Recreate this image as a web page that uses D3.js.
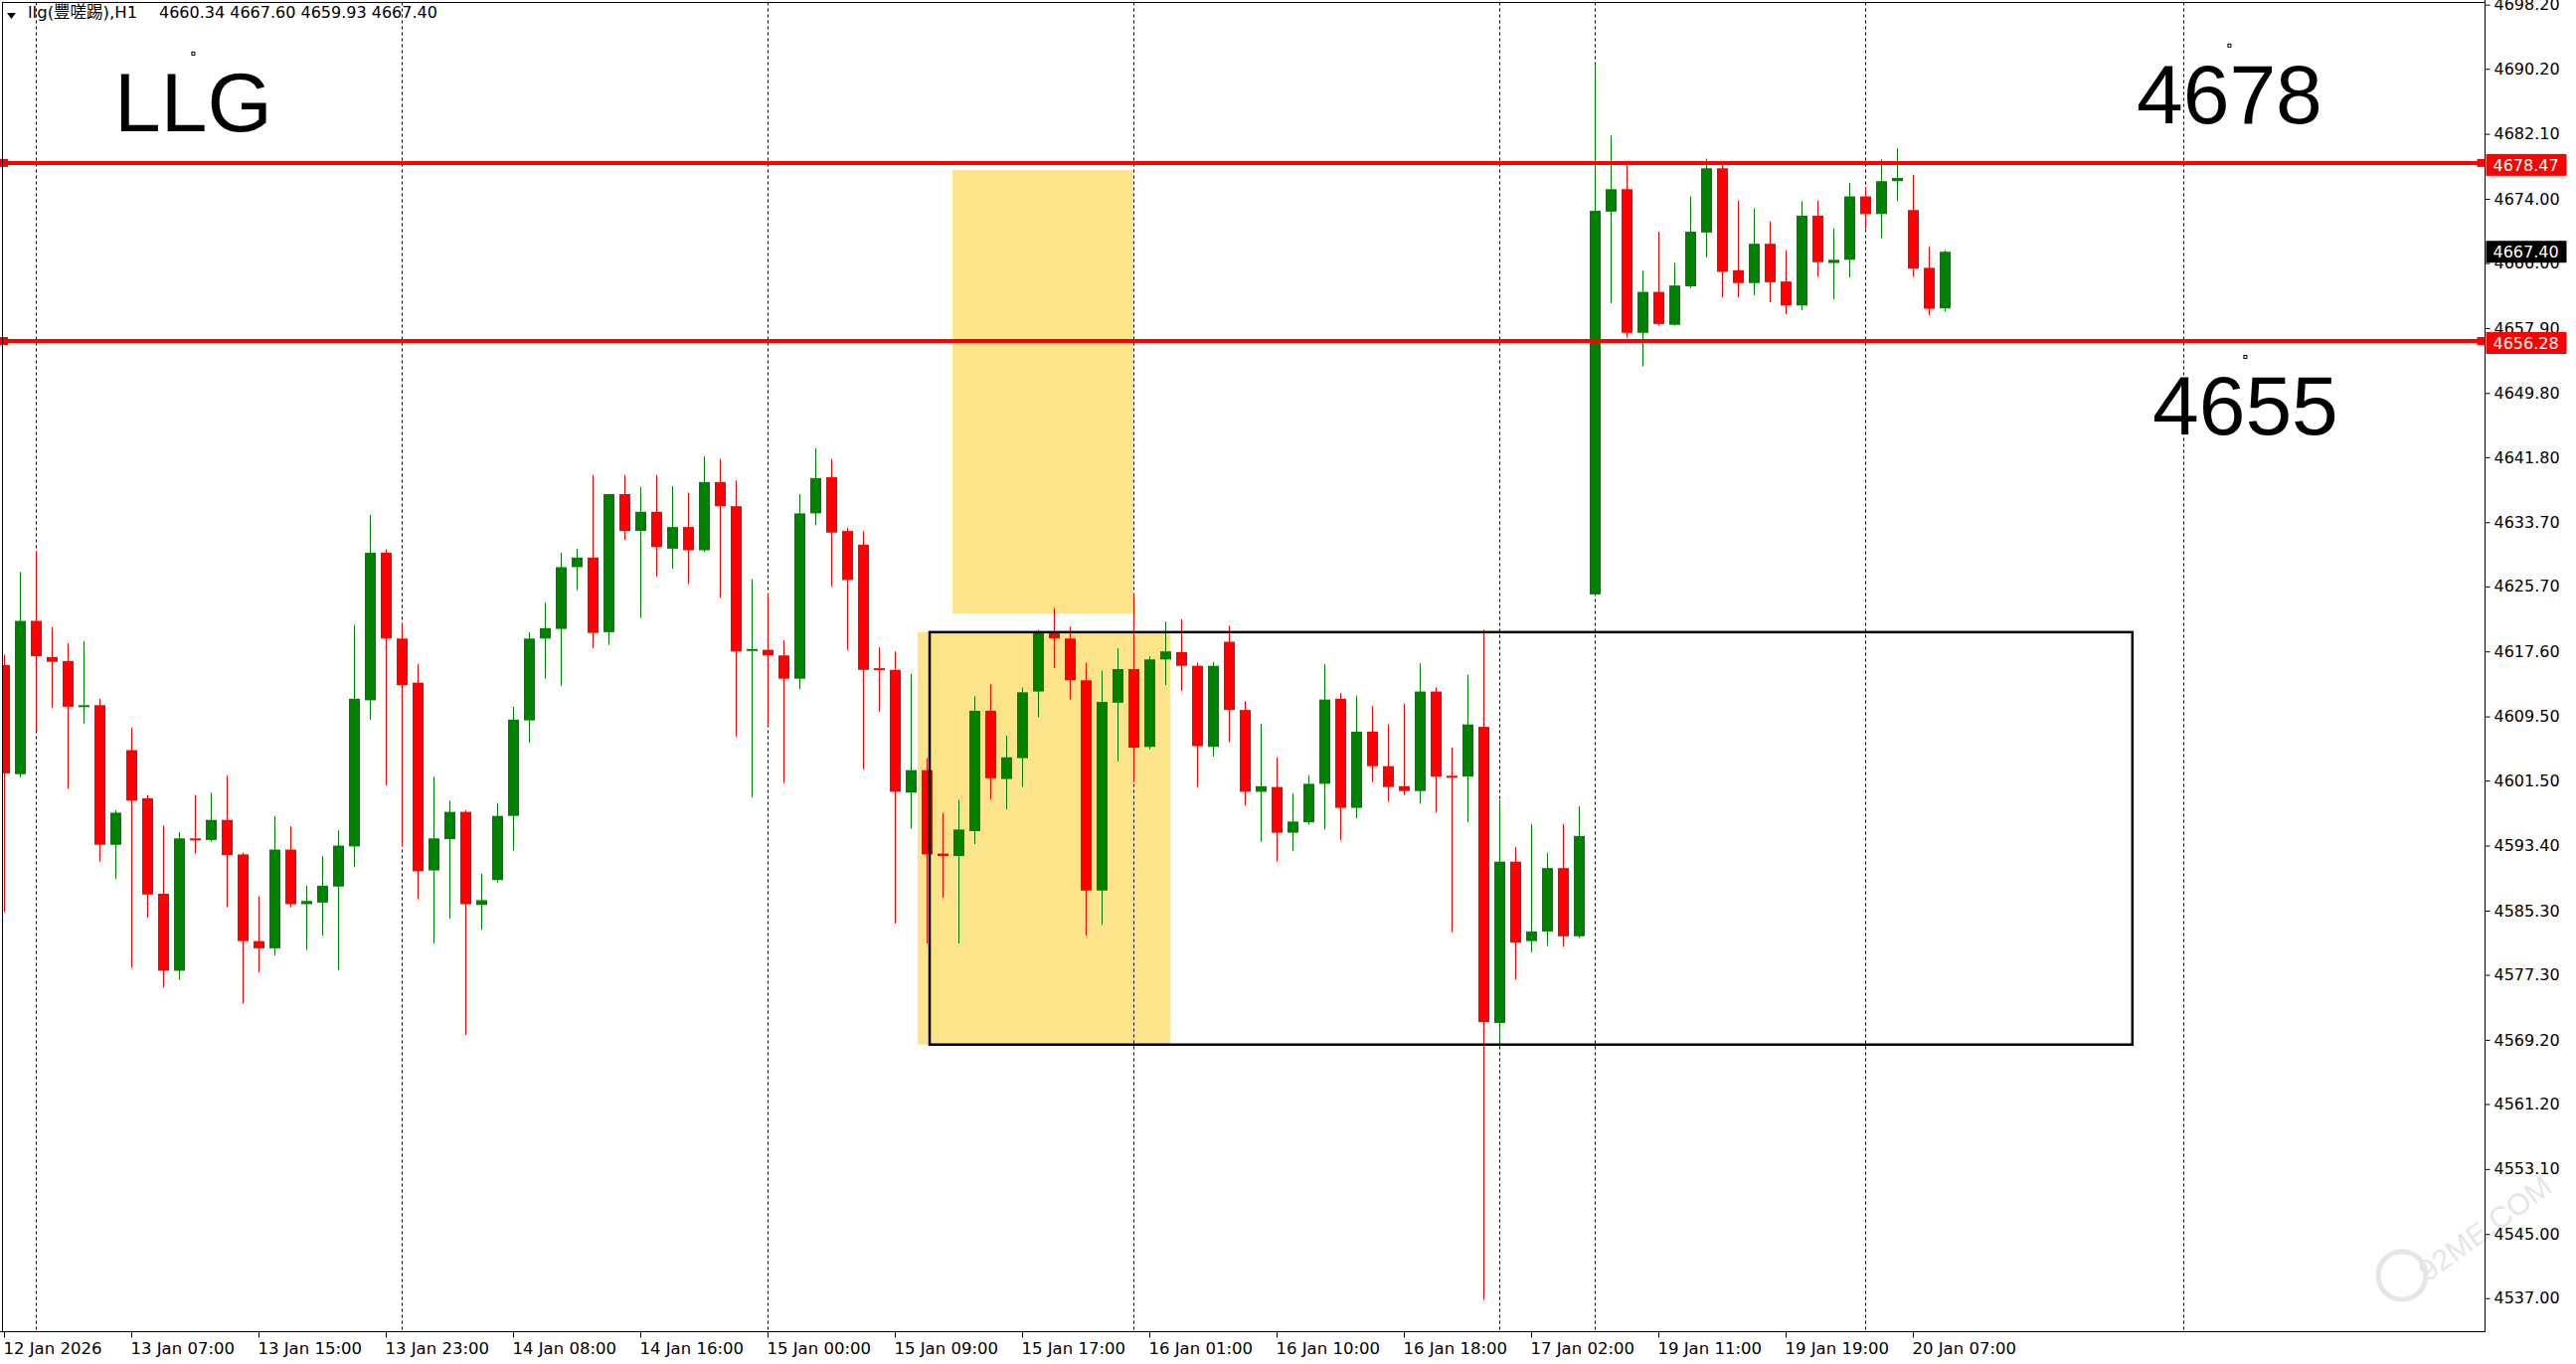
<!DOCTYPE html>
<html>
<head>
<meta charset="utf-8">
<script src="https://cdn.jsdelivr.net/npm/d3@7"></script>
<style>
  html, body { margin: 0; padding: 0; background: #ffffff; }
  svg { display: block; }
  text { white-space: pre; }
</style>
</head>
<body>
<svg id="chart" width="2591" height="1372"></svg>
<script>
// ---------------- DATA ----------------
const opens = [
  4615.9,4602.3,4621.4,4616.9,4616.4,4610.7,4610.9,4593.5,4605.3,4599.3,
  4587.4,4577.8,4594.3,4594.1,4596.6,4592.3,4581.5,4580.6,4592.9,4586.1,
  4586.3,4588.3,4593.3,4611.5,4629.9,4619.2,4613.7,4590.3,4594.2,4597.6,
  4586.0,4589.1,4597.1,4609.0,4619.2,4620.4,4628.1,4629.3,4620.0,4637.2,
  4632.6,4635.0,4630.4,4633.1,4630.2,4638.7,4635.7,4617.7,4617.8,4617.1,
  4614.2,4634.8,4639.3,4632.6,4630.9,4615.5,4615.3,4600.0,4602.8,4592.4,
  4592.1,4595.2,4610.2,4601.7,4604.3,4612.6,4620.0,4619.2,4614.0,4587.8,
  4611.2,4615.4,4605.7,4616.6,4617.5,4615.8,4605.7,4618.8,4610.3,4600.1,
  4600.7,4595.0,4596.3,4601.1,4611.7,4598.1,4607.6,4603.3,4600.8,4600.2,
  4612.6,4602.1,4602.0,4608.2,4571.3,4591.4,4581.5,4582.7,4590.6,4582.1,
  4624.7,4672.4,4675.2,4657.3,4662.4,4658.3,4663.1,4669.8,4677.8,4665.1,
  4663.5,4668.4,4663.7,4660.7,4671.9,4666.0,4666.4,4674.3,4672.1,4676.2,
  4672.6,4665.4,4660.34
];
const highs = [
  4617.2,4627.5,4630.1,4620.6,4618.6,4618.9,4611.7,4597.8,4608.1,4599.7,
  4595.9,4595.1,4599.7,4600.0,4602.1,4592.5,4587.1,4597.1,4595.8,4588.4,
  4592.1,4595.3,4620.9,4634.6,4630.3,4621.1,4616.0,4602.0,4599.0,4597.8,
  4589.9,4598.7,4610.7,4620.0,4623.7,4629.9,4630.4,4639.6,4637.2,4639.6,
  4638.1,4639.6,4638.2,4637.4,4641.9,4641.6,4638.9,4626.6,4624.8,4619.0,
  4637.2,4642.9,4641.6,4633.0,4632.6,4618.1,4617.6,4614.8,4604.3,4597.4,
  4599.1,4612.0,4613.5,4607.1,4613.1,4620.3,4623.0,4620.7,4616.2,4615.2,
  4618.0,4624.8,4617.0,4621.3,4621.6,4616.2,4616.3,4620.8,4611.4,4608.6,
  4604.4,4599.9,4602.2,4616.0,4612.4,4612.1,4610.8,4608.5,4611.1,4616.1,
  4613.1,4605.6,4614.7,4620.3,4599.1,4593.2,4596.1,4592.5,4596.1,4598.3,
  4690.6,4681.9,4678.3,4665.0,4669.9,4666.0,4674.3,4679.0,4678.3,4673.8,
  4672.8,4671.2,4667.6,4673.7,4673.8,4670.3,4676.0,4675.5,4678.9,4680.3,
  4677.0,4668.0,4667.60
];
const lows = [
  4585.1,4601.9,4607.7,4610.6,4600.5,4608.6,4591.4,4589.2,4578.2,4584.4,
  4575.7,4576.7,4592.4,4593.9,4585.7,4573.7,4577.6,4579.7,4585.7,4580.4,
  4582.2,4577.9,4590.7,4609.1,4600.9,4593.3,4586.7,4581.2,4584.3,4569.8,
  4582.9,4588.8,4592.8,4606.2,4614.2,4613.3,4625.2,4618.0,4618.4,4631.5,
  4621.8,4626.9,4627.9,4626.0,4630.0,4624.3,4607.0,4599.4,4608.3,4601.2,
  4612.9,4633.3,4625.7,4617.8,4602.9,4610.1,4583.7,4595.5,4581.2,4586.9,
  4581.2,4593.6,4599.1,4597.9,4600.7,4609.4,4615.5,4611.6,4582.2,4583.5,
  4603.9,4601.3,4605.4,4613.4,4612.7,4600.7,4604.5,4606.3,4598.4,4593.9,
  4591.4,4592.7,4596.0,4595.4,4594.1,4596.8,4601.3,4598.9,4599.7,4598.6,
  4597.5,4582.6,4596.3,4536.8,4568.3,4576.7,4580.1,4580.9,4580.8,4581.9,
  4624.5,4661.0,4656.7,4653.1,4658.2,4658.2,4662.9,4666.7,4661.7,4661.7,
  4662.0,4661.1,4659.6,4660.1,4664.3,4661.5,4664.2,4670.3,4669.1,4673.7,
  4664.3,4659.5,4659.93
];
const closes = [
  4602.4,4621.4,4617.0,4616.3,4610.7,4610.9,4593.5,4597.5,4599.0,4587.3,
  4577.8,4594.3,4594.1,4596.6,4592.2,4581.5,4580.6,4592.9,4586.1,4586.5,
  4588.4,4593.4,4611.7,4629.9,4619.2,4613.4,4590.2,4594.3,4597.6,4586.1,
  4586.6,4597.1,4609.1,4619.2,4620.5,4628.1,4629.3,4619.9,4637.2,4632.6,
  4635.0,4630.6,4633.1,4630.2,4638.7,4635.7,4617.6,4617.9,4617.1,4614.2,
  4634.8,4639.2,4632.4,4626.5,4615.3,4615.3,4600.1,4602.8,4592.3,4592.1,
  4595.4,4610.2,4601.8,4604.4,4612.5,4620.0,4619.2,4614.0,4587.8,4611.3,
  4615.4,4605.6,4616.6,4617.6,4615.8,4605.8,4615.8,4610.3,4600.1,4600.8,
  4595.0,4596.4,4601.1,4611.6,4598.1,4607.6,4603.3,4600.7,4600.2,4612.6,
  4602.0,4601.9,4608.5,4571.4,4591.4,4581.3,4582.7,4590.6,4582.1,4594.6,
  4672.5,4675.2,4657.3,4662.4,4658.4,4663.2,4669.9,4677.8,4664.9,4663.5,
  4668.4,4663.6,4660.7,4671.9,4666.1,4666.4,4674.3,4672.1,4676.2,4676.6,
  4665.3,4660.3,4667.40
];

const timeLabels = ["12 Jan 2026","13 Jan 07:00","13 Jan 15:00","13 Jan 23:00","14 Jan 08:00",
  "14 Jan 16:00","15 Jan 00:00","15 Jan 09:00","15 Jan 17:00","16 Jan 01:00","16 Jan 10:00",
  "16 Jan 18:00","17 Jan 02:00","19 Jan 11:00","19 Jan 19:00","20 Jan 07:00"];
const barsPerLabel = 8;
const daySeparators = [2, 25, 48, 71, 94, 100, 117, 137];
const priceTicks = [4698.20,4690.20,4682.10,4674.00,4666.00,4657.90,4649.80,4641.80,4633.70,
  4625.70,4617.60,4609.50,4601.50,4593.40,4585.30,4577.30,4569.20,4561.20,4553.10,4545.00,4537.00];

const levelLines = [4678.47, 4656.28];
const lastPrice = 4667.40;
const headerSymbol = "llg(豐嗟踢),H1";
const headerOHLC = "4660.34 4667.60 4659.93 4667.40";

// zones: [barStart, barEnd, priceTop, priceBottom]
const yellowZones = [[59.63, 71.0, 4677.6, 4622.3], [57.44, 73.31, 4620.0, 4568.6]];
const boxZone = [58.19, 133.8, 4620.0, 4568.6];
// notes: [label, bar, price]
const notes = [["LLG", 11.9, 4692.1], ["4678", 139.9, 4693.1], ["4655", 140.9, 4654.3]];

// ---------------- DRAW ----------------
const W = 2591, H = 1372;
const plotL = 2.5, plotT = 2.5, plotR = 2499.5, plotB = 1339.5;
const svg = d3.select("#chart");

const x = d3.scaleLinear().domain([0, 155]).range([4, 4 + 155 * 16]);
const y = d3.scaleLinear().domain([4537.0, 4690.2]).range([1305.8, 69.2]);

const GREEN = "#008000", RED = "#ff0000";
const AXFONT = "'DejaVu Sans', Verdana, sans-serif";

svg.append("rect").attr("x", 0).attr("y", 0).attr("width", W).attr("height", H).attr("fill", "#fff");

// faint watermark (drawn first, under everything)
const wm = svg.append("g").attr("opacity", 0.6);
wm.append("circle").attr("cx", 2416).attr("cy", 1283).attr("r", 24)
  .attr("fill", "none").attr("stroke", "#d6d6d6").attr("stroke-width", 5);
wm.append("text").attr("transform", "translate(2442,1290) rotate(-36)")
  .attr("font-family", "'Liberation Sans', Arial, sans-serif").attr("font-size", 30)
  .attr("fill", "#d6d6d6").text("92ME.COM");

// clip
svg.append("clipPath").attr("id", "plotclip").append("rect")
  .attr("x", plotL).attr("y", plotT).attr("width", plotR - plotL).attr("height", plotB - plotT);
const plot = svg.append("g").attr("clip-path", "url(#plotclip)");

// yellow zones
plot.selectAll("rect.zone").data(yellowZones).join("rect").attr("class", "zone")
  .attr("x", d => x(d[0])).attr("width", d => x(d[1]) - x(d[0]))
  .attr("y", d => y(d[2])).attr("height", d => y(d[3]) - y(d[2]))
  .attr("fill", "#fde48a");

// day separators
plot.selectAll("line.sep").data(daySeparators).join("line").attr("class", "sep")
  .attr("x1", d => Math.round(x(d)) + 0.5).attr("x2", d => Math.round(x(d)) + 0.5)
  .attr("y1", plotT).attr("y2", plotB)
  .attr("stroke", "#000").attr("stroke-width", 1).attr("stroke-dasharray", "3,3");

// candles
const idx = d3.range(opens.length);
const cg = plot.append("g");
cg.selectAll("line.wick").data(idx).join("line").attr("class", "wick")
  .attr("x1", i => Math.round(x(i)) + 0.5).attr("x2", i => Math.round(x(i)) + 0.5)
  .attr("y1", i => y(highs[i])).attr("y2", i => y(lows[i]))
  .attr("stroke", i => closes[i] >= opens[i] ? GREEN : RED).attr("stroke-width", 1);
cg.selectAll("rect.body").data(idx).join("rect").attr("class", "body")
  .attr("x", i => Math.round(x(i)) - 5).attr("width", 11)
  .attr("y", i => y(Math.max(opens[i], closes[i])))
  .attr("height", i => Math.max(2, Math.abs(y(opens[i]) - y(closes[i]))))
  .attr("fill", i => closes[i] >= opens[i] ? GREEN : RED);

// black rectangle
plot.append("rect")
  .attr("x", x(boxZone[0])).attr("width", x(boxZone[1]) - x(boxZone[0]))
  .attr("y", y(boxZone[2])).attr("height", y(boxZone[3]) - y(boxZone[2]))
  .attr("fill", "none").attr("stroke", "#000").attr("stroke-width", 2.5);

// level lines
const lv = svg.append("g");
lv.selectAll("line.lvl").data(levelLines).join("line").attr("class", "lvl")
  .attr("x1", 0).attr("x2", plotR).attr("y1", d => y(d)).attr("y2", d => y(d))
  .attr("stroke", RED).attr("stroke-width", 4);
lv.selectAll("rect.lvlL").data(levelLines).join("rect").attr("class", "lvlL")
  .attr("x", 0).attr("width", 8).attr("y", d => y(d) - 4).attr("height", 8).attr("fill", RED);
lv.selectAll("rect.lvlR").data(levelLines).join("rect").attr("class", "lvlR")
  .attr("x", plotR - 8).attr("width", 8).attr("y", d => y(d) - 4).attr("height", 8).attr("fill", RED);

// notes (text objects with anchor squares)
const ng = svg.append("g");
ng.selectAll("rect.anchor").data(notes).join("rect").attr("class", "anchor")
  .attr("x", d => x(d[1]) - 1.5).attr("y", d => y(d[2]) - 1.5).attr("width", 3).attr("height", 3)
  .attr("fill", "#fff").attr("stroke", "#000").attr("stroke-width", 1);
ng.selectAll("text.note").data(notes).join("text").attr("class", "note")
  .attr("x", d => x(d[1])).attr("y", d => y(d[2]) + 78)
  .attr("text-anchor", "middle")
  .attr("font-family", "'Liberation Sans', Arial, sans-serif").attr("font-size", 84)
  .attr("fill", "#000").text(d => d[0]);

// frame
svg.append("rect").attr("x", plotL).attr("y", plotT).attr("width", plotR - plotL).attr("height", plotB - plotT)
  .attr("fill", "none").attr("stroke", "#000").attr("stroke-width", 1);

// right axis
const yAxis = d3.axisRight(y).tickValues(priceTicks).tickFormat(d3.format(".2f")).tickSize(5).tickPadding(4);
const ya = svg.append("g").attr("transform", `translate(${plotR},0)`).call(yAxis);
ya.select(".domain").attr("stroke", "#000").attr("d", `M0,0V${plotB}`);
ya.selectAll(".tick line").attr("stroke", "#000");
ya.selectAll(".tick text").attr("font-family", AXFONT).attr("font-size", 16).attr("fill", "#000");

// bottom axis
const labelBars = timeLabels.map((_, k) => k * barsPerLabel);
const xAxis = d3.axisBottom(x).tickValues(labelBars).tickFormat((d, k) => timeLabels[k]).tickSize(6).tickPadding(5);
const xa = svg.append("g").attr("transform", `translate(0,${plotB})`).call(xAxis);
xa.select(".domain").attr("stroke", "#000").attr("d", `M0,0H${plotR}`);
xa.selectAll(".tick line").attr("stroke", "#000");
xa.selectAll(".tick text").attr("font-family", AXFONT).attr("font-size", 16.5).attr("fill", "#000")
  .attr("text-anchor", "start").attr("dx", -1);

// level labels on axis
const lb = svg.append("g");
levelLines.forEach(v => {
  lb.append("rect").attr("x", plotR + 1).attr("y", y(v) - 9).attr("width", 81).attr("height", 22).attr("fill", RED);
  lb.append("text").attr("x", plotR + 8).attr("y", y(v) + 8).attr("font-family", AXFONT).attr("font-size", 16)
    .attr("fill", "#fff").text(d3.format(".2f")(v));
});
lb.append("rect").attr("x", plotR + 1).attr("y", y(lastPrice) - 11).attr("width", 81).attr("height", 22).attr("fill", "#000");
lb.append("text").attr("x", plotR + 8).attr("y", y(lastPrice) + 6).attr("font-family", AXFONT).attr("font-size", 16)
  .attr("fill", "#fff").text(d3.format(".2f")(lastPrice));

// header
svg.append("path").attr("d", "M7,13 L16,13 L11.5,19 Z").attr("fill", "#000");
svg.append("text").attr("x", 28).attr("y", 18)
  .attr("font-family", "'DejaVu Sans', 'Noto Sans CJK TC', sans-serif").attr("font-size", 16.5)
  .attr("fill", "#000").text(headerSymbol);
svg.append("text").attr("x", 160).attr("y", 18)
  .attr("font-family", "'DejaVu Sans', sans-serif").attr("font-size", 16)
  .attr("fill", "#000").text(headerOHLC);
</script>
</body>
</html>
